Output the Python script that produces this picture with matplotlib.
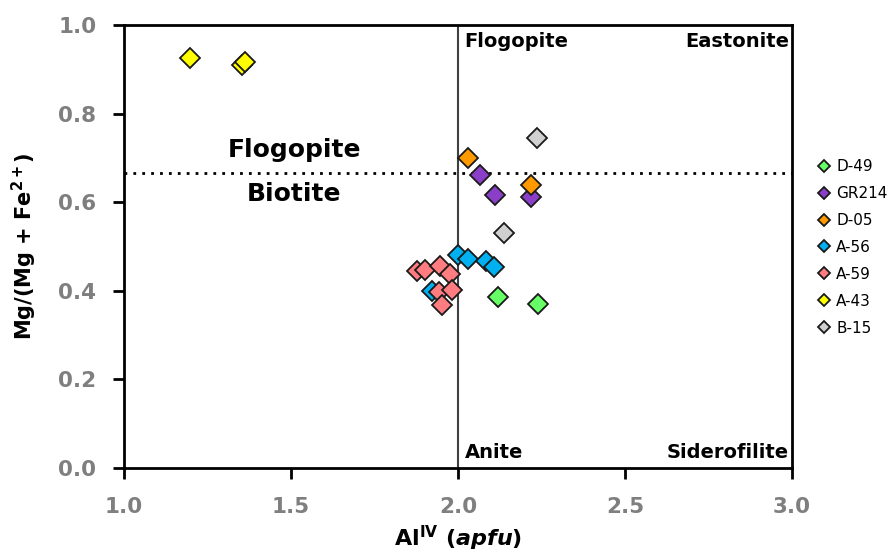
import matplotlib
matplotlib.use("Agg")
import matplotlib.pyplot as plt

# Data
series_names = ["D-49", "GR214", "D-05", "A-56", "A-59", "A-43", "B-15"]
series_colors = ["#66FF66", "#8B3FC8", "#FF9900", "#00B0F0", "#FF7C80", "#FFFF00", "#D0D0D0"]

d49_x = [2.121, 2.240]
d49_y = [0.385, 0.370]
gr214_x = [2.066, 2.111, 2.219]
gr214_y = [0.662, 0.617, 0.611]
d05_x = [2.029, 2.219]
d05_y = [0.700, 0.638]
a56_x = [1.999, 2.029, 2.084, 2.109, 1.921]
a56_y = [0.480, 0.471, 0.467, 0.453, 0.399]
a59_x = [1.878, 1.901, 1.946, 1.976, 1.944, 1.981, 1.951]
a59_y = [0.444, 0.448, 0.455, 0.438, 0.397, 0.401, 0.367]
a43_x = [1.198, 1.352, 1.362]
a43_y = [0.926, 0.909, 0.916]
b15_x = [2.235, 2.139]
b15_y = [0.744, 0.530]

xs = [d49_x, gr214_x, d05_x, a56_x, a59_x, a43_x, b15_x]
ys = [d49_y, gr214_y, d05_y, a56_y, a59_y, a43_y, b15_y]

x_ticks = [1.0, 1.5, 2.0, 2.5, 3.0]
y_ticks = [0.0, 0.2, 0.4, 0.6, 0.8, 1.0]
boundary_x = 2.0
boundary_y = 2.0 / 3.0

fig = plt.figure(figsize=(8.89, 5.57), dpi=100)
ax = fig.add_axes([0.1395, 0.1598, 0.7515, 0.7952])

ax.axvline(boundary_x, color="#404040", lw=1.5, zorder=1)
ax.axhline(boundary_y, color="black", lw=2, ls=(0, (1, 2.2)), zorder=1)

for name, c, x, y in zip(series_names, series_colors, xs, ys):
    ax.plot(x, y, ls="none", marker="D", ms=10.5, mfc=c, mec="#1a1a1a",
            mew=1.3, label=name, zorder=3)

ax.set_xlim(1.0, 3.0)
ax.set_ylim(0.0, 1.0)
ax.set_xticks(x_ticks)
ax.set_yticks(y_ticks)
ax.set_xticklabels([f"{t:.1f}" for t in x_ticks])
ax.set_yticklabels([f"{t:.1f}" for t in y_ticks])
ax.tick_params(axis="both", direction="out", length=8, width=2, color="black",
               labelcolor="#7f7f7f", labelsize=15.5)
ax.tick_params(axis="x", pad=13)
ax.tick_params(axis="y", pad=12)
for lab in ax.get_xticklabels() + ax.get_yticklabels():
    lab.set_fontweight("bold")
for s in ax.spines.values():
    s.set_linewidth(2)
    s.set_color("black")

lbl = dict(fontweight="bold", color="black", family="DejaVu Sans")
ax.text(1.509, 0.717, "Flogopite", fontsize=18, ha="center", va="center", **lbl)
ax.text(1.509, 0.618, "Biotite", fontsize=18, ha="center", va="center", **lbl)
ax.text(2.02, 0.963, "Flogopite", fontsize=14, ha="left", va="center", **lbl)
ax.text(2.99, 0.963, "Eastonite", fontsize=14, ha="right", va="center", **lbl)
ax.text(2.02, 0.034, "Anite", fontsize=14, ha="left", va="center", **lbl)
ax.text(2.99, 0.034, "Siderofilite", fontsize=14, ha="right", va="center", **lbl)

ax.set_xlabel(r"Al$^{\mathbf{IV}}$ ($\mathbfit{apfu}$)", fontsize=16, fontweight="bold", labelpad=5)
ax.set_ylabel(r"Mg/(Mg + Fe$^{\mathbf{2+}}$)", fontsize=15, fontweight="bold", labelpad=14)

handles, labels = ax.get_legend_handles_labels()
leg = fig.legend(handles, labels, loc="center left", bbox_to_anchor=(0.913, 0.556),
                 frameon=False, fontsize=11, handlelength=0.8, handletextpad=0.4,
                 labelspacing=0.78, markerscale=0.55, borderaxespad=0)

fig.savefig("out.png", dpi=100)
